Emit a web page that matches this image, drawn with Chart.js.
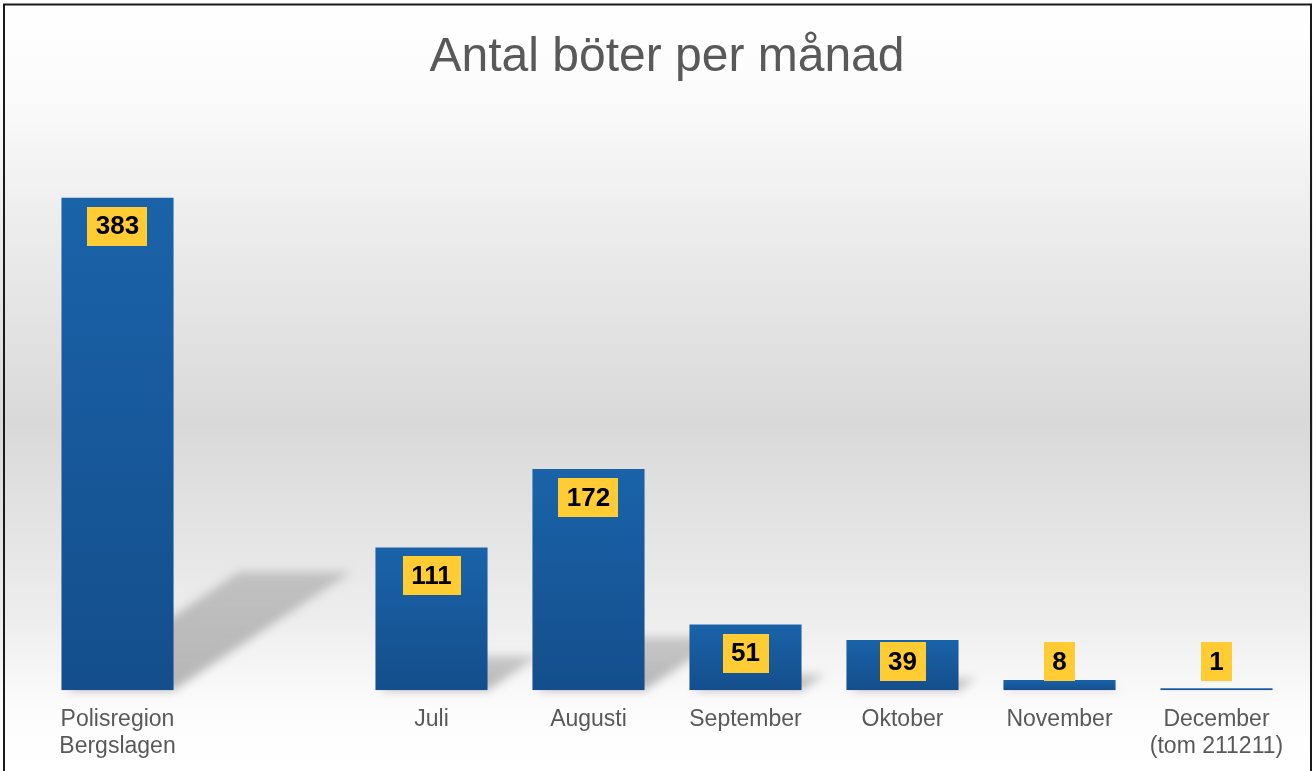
<!DOCTYPE html>
<html>
<head>
<meta charset="utf-8">
<script src="https://cdn.jsdelivr.net/npm/chart.js@4.4.0/dist/chart.umd.min.js"></script>
<style>
  html, body { margin: 0; padding: 0; background: #fff; }
  #wrap { width: 1313px; height: 771px; position: relative; }
</style>
</head>
<body>
<div id="wrap"><canvas id="chart"></canvas></div>
<script>
// --- DATA ---
const chartTitle = 'Antal böter per månad';
const categories = [['Polisregion', 'Bergslagen'], '', 'Juli', 'Augusti', 'September', 'Oktober', 'November', ['December', '(tom 211211)']];
const fines = [383, null, 111, 172, 51, 39, 8, 1];
const yMax = 450;

// --- PLUGINS ---
const backdrop = {
    id: 'backdrop',
    beforeDraw(chart) {
        const { ctx, width, height } = chart;
        const g = ctx.createLinearGradient(0, 0, 0, height);
        g.addColorStop(0, '#ffffff');
        g.addColorStop(0.12, '#fbfbfb');
        g.addColorStop(0.3, '#ececec');
        g.addColorStop(0.55, '#d9d9d9');
        g.addColorStop(0.8, '#ededed');
        g.addColorStop(0.92, '#fcfcfc');
        g.addColorStop(1, '#ffffff');
        ctx.save();
        ctx.fillStyle = g;
        ctx.fillRect(0, 0, width, height);
        ctx.restore();
    },
    afterDraw(chart) {
        const { ctx, width, height } = chart;
        ctx.save();
        ctx.strokeStyle = '#1a1a1a';
        ctx.lineWidth = 2;
        ctx.strokeRect(4, 4.5, width - 6, height + 10);
        ctx.restore();
    }
};

// slanted shadows behind the bars
const barShadows = {
    id: 'barShadows',
    beforeDatasetsDraw(chart) {
        const { ctx } = chart;
        const meta = chart.getDatasetMeta(0);
        ctx.save();
        ctx.filter = 'blur(5px)';
        meta.data.forEach((bar, i) => {
            if (fines[i] == null) return;
            const x0 = bar.x - bar.width / 2, x1 = bar.x + bar.width / 2;
            const d = (bar.base - bar.y) * 0.24;
            const dx = d * 1.5;
            const g = ctx.createLinearGradient(0, bar.base, 0, bar.base - d);
            g.addColorStop(0, 'rgba(90,90,90,0.42)');
            g.addColorStop(1, 'rgba(90,90,90,0.28)');
            ctx.fillStyle = g;
            ctx.beginPath();
            ctx.moveTo(x0 + 4, bar.base);
            ctx.lineTo(x1, bar.base);
            ctx.lineTo(x1 + dx, bar.base - d);
            ctx.lineTo(x0 + dx, bar.base - d);
            ctx.closePath();
            ctx.fill();
        });
        ctx.restore();
    }
};

// yellow value boxes
const valueBoxes = {
    id: 'valueBoxes',
    afterDatasetsDraw(chart) {
        const { ctx } = chart;
        const meta = chart.getDatasetMeta(0);
        ctx.save();
        ctx.font = 'bold 26px "Liberation Sans", Arial, sans-serif';
        ctx.textAlign = 'center';
        ctx.textBaseline = 'middle';
        meta.data.forEach((bar, i) => {
            if (fines[i] == null) return;
            const txt = String(fines[i]);
            const w = ctx.measureText(txt).width + 17;
            const h = 39;
            const top = Math.min(bar.y + 9, bar.base - 9 - h);
            ctx.fillStyle = '#ffcc33';
            ctx.fillRect(Math.round(bar.x - w / 2), Math.round(top), Math.round(w), h);
            ctx.fillStyle = '#000';
            ctx.fillText(txt, bar.x, top + h / 2 + 1);
        });
        ctx.restore();
    }
};

const barFill = (c) => {
    const chart = c.chart;
    if (!chart.chartArea || !chart.scales.y) return '#1860a5';
    const v = fines[c.dataIndex];
    if (v == null) return '#1860a5';
    const y = chart.scales.y;
    const top = y.getPixelForValue(v), base = y.getPixelForValue(0);
    const g = chart.ctx.createLinearGradient(0, top, 0, base);
    g.addColorStop(0, '#1a63a9');
    g.addColorStop(1, '#144e8c');
    return g;
};

new Chart(document.getElementById('chart'), {
    type: 'bar',
    data: {
        labels: categories,
        datasets: [{
            data: fines,
            backgroundColor: barFill,
            borderWidth: 0,
            barPercentage: 0.714,
            categoryPercentage: 1,
            minBarLength: 2
        }]
    },
    options: {
        responsive: true,
        maintainAspectRatio: false,
        animation: false,
        layout: { padding: { left: 39, right: 18, top: 0, bottom: -5 } },
        plugins: {
            legend: { display: false },
            tooltip: { enabled: false },
            title: {
                display: true,
                text: chartTitle,
                color: '#595959',
                font: { family: '"Liberation Sans", Arial, sans-serif', size: 48, weight: 'normal', lineHeight: 1.2 },
                padding: { top: 29, bottom: 25 }
            }
        },
        scales: {
            x: {
                grid: { display: false, drawTicks: false },
                border: { display: false },
                ticks: {
                    color: '#595959',
                    padding: 16,
                    maxRotation: 0,
                    autoSkip: false,
                    font: { family: '"Liberation Sans", Arial, sans-serif', size: 23, lineHeight: 1.17 }
                }
            },
            y: { display: false, min: 0, max: yMax }
        }
    },
    plugins: [backdrop, barShadows, valueBoxes]
});
</script>
</body>
</html>
